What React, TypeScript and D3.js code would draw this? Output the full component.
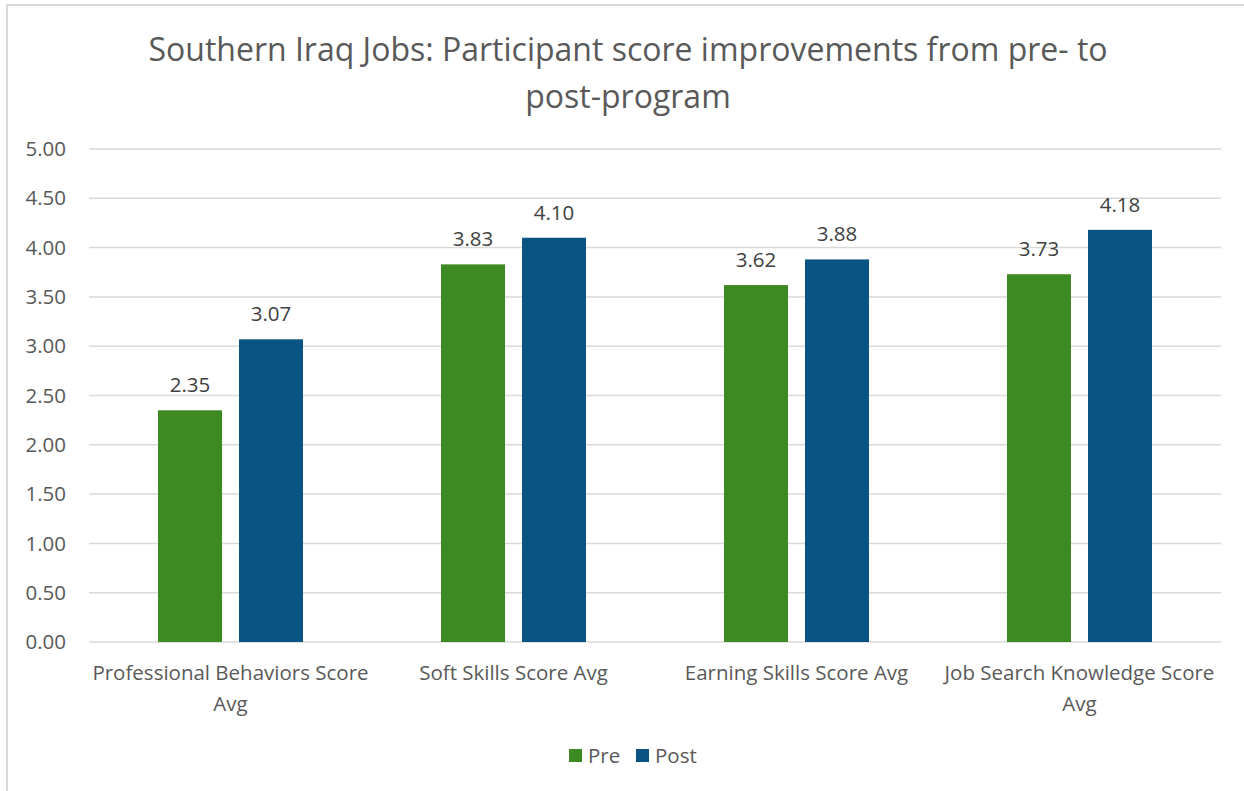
import React from "react";
import * as d3 from "d3";

const categories = [
  ["Professional Behaviors Score", "Avg"],
  ["Soft Skills Score Avg"],
  ["Earning Skills Score Avg"],
  ["Job Search Knowledge Score", "Avg"],
];
const seriesNames = ["Pre", "Post"];
const preValues = [2.35, 3.83, 3.62, 3.73];
const postValues = [3.07, 4.1, 3.88, 4.18];
const yTicks = [0, 0.5, 1, 1.5, 2, 2.5, 3, 3.5, 4, 4.5, 5];
const colors = ["#3e8a22", "#095482"];

const W = 1244;
const H = 791;
const left = 89;
const right = 1221;
const top = 149;
const bottom = 642;
const font = "'Open Sans', sans-serif";
const textColor = "#595959";

export default function App() {
  const x0 = d3
    .scaleBand<number>()
    .domain(categories.map((_, i) => i))
    .range([left, right]);
  const x1 = d3
    .scaleBand<number>()
    .domain([0, 1])
    .range([0, 145])
    .paddingInner(0.21);
  const y = d3.scaleLinear().domain([0, 5]).range([bottom, top]);
  const data = [preValues, postValues];
  const groupW = 145;

  return (
    <div style={{ position: "absolute", left: 0, top: 0 }}>
      <svg width={W} height={H} style={{ display: "block", background: "#fff" }}>
        <rect x={7} y={5} width={W} height={H} fill="#fff" stroke="#d9d9d9" strokeWidth={2} />
        <text x={628} y={61} textAnchor="middle" fontFamily={font} fontSize={32} fill={textColor}>
          Southern Iraq Jobs: Participant score improvements from pre- to
        </text>
        <text x={628} y={108} textAnchor="middle" fontFamily={font} fontSize={32} fill={textColor}>
          post-program
        </text>
        {yTicks.map((t) => (
          <g key={t}>
            <line x1={left} x2={right} y1={y(t)} y2={y(t)} stroke="#d9d9d9" strokeWidth={1.5} />
            <text
              x={66}
              y={y(t)}
              dy="0.35em"
              textAnchor="end"
              fontFamily={font}
              fontSize={20.5}
              fill={textColor}
            >
              {t.toFixed(2)}
            </text>
          </g>
        ))}
        {categories.map((cat, i) => {
          const cx = x0(i)! + x0.bandwidth() / 2;
          const gx = cx - groupW / 2;
          return (
            <g key={i}>
              {data.map((vals, s) => {
                const bx = gx + x1(s)!;
                const v = vals[i];
                return (
                  <g key={s}>
                    <rect
                      x={bx}
                      y={y(v)}
                      width={x1.bandwidth()}
                      height={y(0) - y(v)}
                      fill={colors[s]}
                    />
                    <text
                      x={bx + x1.bandwidth() / 2}
                      y={y(v) - 18}
                      textAnchor="middle"
                      fontFamily={font}
                      fontSize={20.5}
                      fill="#404040"
                    >
                      {v.toFixed(2)}
                    </text>
                  </g>
                );
              })}
              {cat.map((line, k) => (
                <text
                  key={k}
                  x={cx}
                  y={680 + k * 31}
                  textAnchor="middle"
                  fontFamily={font}
                  fontSize={20.5}
                  fill={textColor}
                >
                  {line}
                </text>
              ))}
            </g>
          );
        })}
        {seriesNames.map((n, s) => {
          const lx = s === 0 ? 569 : 636;
          return (
            <g key={n}>
              <rect x={lx} y={749} width={13} height={13} fill={colors[s]} />
              <text x={lx + 19} y={763} fontFamily={font} fontSize={20.5} fill={textColor}>
                {n}
              </text>
            </g>
          );
        })}
      </svg>
    </div>
  );
}
